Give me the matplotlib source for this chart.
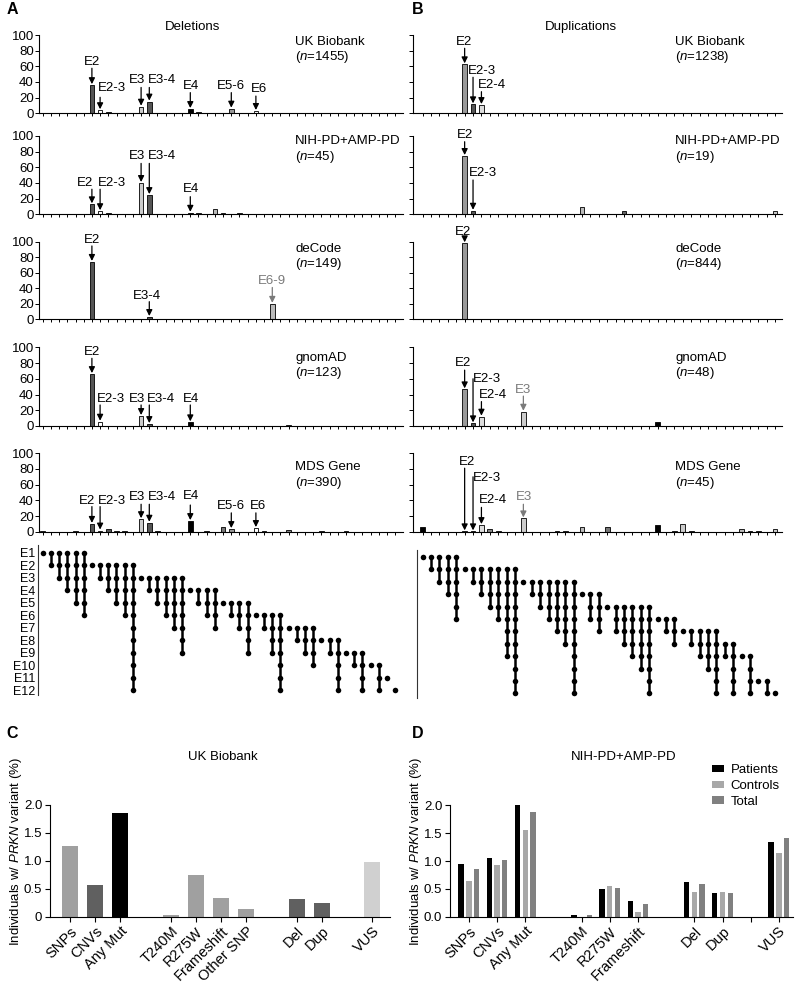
import numpy as np
import matplotlib.pyplot as plt
from matplotlib.patches import Patch

plt.rcParams['font.family'] = 'Liberation Sans'
plt.rcParams['mathtext.fontset'] = 'custom'
plt.rcParams['mathtext.rm'] = 'Liberation Sans'
plt.rcParams['mathtext.it'] = 'Liberation Sans:italic'

# ---- data: exon ranges of each CNV column (start, end exon)
del_ranges = [(1, 1), (1, 2), (1, 3), (1, 4), (1, 5), (1, 6),
              (2, 2), (2, 3), (2, 4), (2, 5), (2, 6), (2, 12),
              (3, 3), (3, 4), (3, 5), (3, 6), (3, 7), (3, 9),
              (4, 4), (4, 5), (4, 6), (4, 7),
              (5, 5), (5, 6), (5, 7), (5, 9),
              (6, 6), (6, 7), (6, 9), (6, 12),
              (7, 7), (7, 8), (7, 9), (7, 10),
              (8, 8), (8, 9), (8, 12),
              (9, 9), (9, 10), (9, 12),
              (10, 10), (10, 12), (11, 11), (12, 12)]
dup_ranges = [(1, 1), (1, 2), (1, 3), (1, 4), (1, 6),
              (2, 2), (2, 3), (2, 4), (2, 5), (2, 6), (2, 9), (2, 12),
              (3, 3), (3, 4), (3, 5), (3, 6), (3, 7), (3, 8), (3, 12),
              (4, 4), (4, 6), (4, 7),
              (5, 5), (5, 7), (5, 8), (5, 9), (5, 10), (5, 12),
              (6, 6), (6, 7), (6, 8),
              (7, 7), (7, 8), (7, 9), (7, 10), (7, 12),
              (8, 9), (8, 12),
              (9, 9), (9, 12),
              (11, 11), (11, 12), (12, 12)]

# percentage of CNVs per column, per cohort
del_ukb = [0, 0, 0, 0, 0, 0, 36, 4, 1.5, 0, 0,
           0, 8.5, 15, 1, 1, 0, 0, 5.5, 1.5, 0, 0,
           0, 6, 0, 0, 3, 0, 0, 0, 1, 0, 0,
           0, 0.5, 0, 0, 0, 0, 0, 0, 0, 0, 0]
del_nih = [0, 0, 0, 0, 0, 0, 12.8, 4, 1.5, 0, 0,
           0, 40, 24.6, 0, 0, 0, 0, 2, 2, 0, 6.4,
           1.5, 0, 1.5, 0, 0, 0, 0, 0, 0, 0, 0,
           0, 0, 0, 0, 0, 0, 0, 0, 0, 0, 0]
del_decode = [0, 0, 0, 0, 0, 0, 74, 0, 0, 0, 0,
              0, 0, 3, 0, 0, 0, 0, 0, 0, 0, 0,
              0, 0, 0, 0, 0, 0, 20, 0, 0, 0, 0,
              0, 0, 0, 0, 0, 0, 0, 0, 0, 0, 0]
del_gnomad = [0, 0, 0, 0, 0, 0, 66, 5.5, 0, 0, 0,
              0, 12.7, 2.5, 0, 0, 0, 0, 4.7, 0, 0, 0,
              0, 0, 0, 0, 0, 0, 0, 0, 1, 0, 0,
              0, 0, 0, 0, 0, 0, 0, 0, 0, 0, 0]
del_mds = [1.5, 0, 0, 0, 0.5, 0, 10, 1.5, 3, 0.5, 0.5,
           0, 16, 11.5, 1, 0, 0, 0, 13.6, 0, 0.5, 0,
           6, 3.4, 0, 0, 4.7, 1.5, 0, 0, 2, 0, 0,
           0, 0.5, 0, 0, 0.5, 0, 0, 0, 0, 0, 0]

dup_ukb = [0, 0, 0, 0, 0, 62.6, 11.5, 10.6, 0.5, 0, 0,
           0, 0, 0.8, 0, 0, 0, 0, 0, 0, 0, 0,
           0, 0, 0, 0, 0, 0, 0, 0, 0, 0.5, 0,
           0, 0, 0, 0, 0, 0, 1, 0, 0, 0]
dup_nih = [0, 0, 0, 0, 0, 74.5, 4.6, 0, 0, 0, 0,
           0, 0, 0, 0, 0, 0, 0, 0, 9.7, 0, 0,
           0, 0, 4.6, 0, 0, 0, 0, 0, 0, 0, 0,
           0, 0, 0, 0, 0, 0, 0, 0, 0, 4.6]
dup_decode = [0, 0, 0, 0, 0, 98, 0, 0, 0, 0, 0,
              0, 0, 0, 0, 0, 0, 0, 0, 0, 0, 0,
              0, 0, 0, 0, 0, 0, 0, 0, 0, 0, 0,
              0, 0, 0, 0, 0, 0, 0, 0, 0, 0]
dup_gnomad = [0, 0, 0, 0, 0, 46.6, 3.4, 11.9, 0, 0, 0,
              0, 18.2, 0, 0, 0, 0, 0, 0, 0.6, 0, 0,
              0.6, 0.6, 0, 0, 0, 0, 5.5, 0, 0, 0.6, 0,
              0, 0, 0, 0.6, 0, 0, 0, 0, 0, 0]
dup_mds = [6.4, 0, 0, 0, 0, 0.5, 0.5, 8.5, 4, 1, 0,
           0, 17, 0, 0, 0, 0.5, 0.5, 0, 6.4, 0, 0,
           6.4, 0, 0, 0, 0, 0, 8, 0, 1, 9.8, 1,
           0, 0, 0, 0, 0, 4, 1, 1, 0, 4]

cohorts = ['UK Biobank', 'NIH-PD+AMP-PD', 'deCode', 'gnomAD', 'MDS Gene']
del_n = [1455, 45, 149, 123, 390]
dup_n = [1238, 19, 844, 48, 45]
del_sets = [del_ukb, del_nih, del_decode, del_gnomad, del_mds]
dup_sets = [dup_ukb, dup_nih, dup_decode, dup_gnomad, dup_mds]

# bar fill per column (style)
del_fill_special = {6: '#555555', 7: 'white', 8: '#555555', 12: '#cccccc', 13: '#555555',
                    18: 'black', 21: '#bbbbbb', 22: '#777777', 23: '#999999', 26: 'white',
                    28: '#bbbbbb'}
dup_fill_special = {0: 'black', 5: '#999999', 6: '#555555', 7: '#dddddd', 8: '#888888',
                    12: '#cccccc', 19: '#bbbbbb', 22: '#777777', 24: '#666666', 28: 'black',
                    31: '#cccccc', 38: '#bbbbbb', 42: '#cccccc'}
del_fill = [del_fill_special.get(i, '#888888') for i in range(len(del_ranges))]
dup_fill = [dup_fill_special.get(i, '#888888') for i in range(len(dup_ranges))]

# annotations: (label, text x, text y, arrow column, arrow start y, grey?)
del_ann = [
    [('E2', 6.0, 66, 6, 57.5, 0), ('E2-3', 8.45, 32, 7, 20.4, 0), ('E3', 11.5, 42.5, 12, 33, 0),
     ('E3-4', 14.6, 42.5, 13, 33, 0), ('E4', 18.05, 35, 18, 26.4, 0), ('E5-6', 22.9, 35, 23, 26.4, 0),
     ('E6', 26.4, 30.6, 26, 22, 0)],
    [('E2', 5.16, 40.4, 6, 32, 0), ('E2-3', 8.45, 40.4, 7, 32, 0), ('E3', 11.5, 74.5, 12, 65, 0),
     ('E3-4', 14.6, 74.5, 13, 65, 0), ('E4', 18.05, 32, 18, 22.5, 0)],
    [('E2', 6.05, 102, 6, 94.5, 0), ('E3-4', 12.7, 30, 13, 22.7, 0), ('E6-9', 28.0, 49.7, 28, 41, 1)],
    [('E2', 6.05, 93.6, 6, 86, 0), ('E2-3', 8.3, 34.3, 7, 26.7, 0), ('E3', 11.46, 34.3, 12, 26.7, 0),
     ('E3-4', 14.4, 34.3, 13, 26.7, 0), ('E4', 18.05, 34.3, 18, 26.7, 0)],
    [('E2', 5.44, 39.5, 6, 32, 0), ('E2-3', 8.45, 39.5, 7, 32, 0), ('E3', 11.46, 44, 12, 35, 0),
     ('E3-4', 14.6, 44, 13, 35, 0), ('E4', 18.05, 45.5, 18, 34, 0), ('E5-6', 22.9, 32.8, 23, 24, 0),
     ('E6', 26.2, 32.8, 26, 24, 0)],
]
dup_ann = [
    [('E2', 4.92, 91.5, 5, 83, 0), ('E2-3', 7.1, 54.4, 6, 46, 0), ('E2-4', 8.2, 36, 7, 27.6, 0)],
    [('E2', 5.04, 101, 5, 92.7, 0), ('E2-3', 7.15, 52.4, 6, 43.8, 0)],
    [('E2', 4.84, 113, 5, 104.4, 0)],
    [('E2', 4.84, 79.7, 5, 71, 0), ('E2-3', 7.7, 59.3, 6, 60, 0), ('E2-4', 8.34, 39.4, 7, 31, 0),
     ('E3', 12.0, 45.7, 12, 38, 1)],
    [('E2', 5.32, 89.3, 5, 81, 0), ('E2-3', 7.7, 68, 6, 70, 0), ('E2-4', 8.34, 40.4, 7, 31, 0),
     ('E3', 12.07, 43.9, 12, 35, 1)],
]

# panels C / D
c_labels = ['SNPs', 'CNVs', 'Any Mut', 'T240M', 'R275W', 'Frameshift', 'Other SNP', 'Del', 'Dup', 'VUS']
c_pos = [0, 1, 2, 4, 5, 6, 7, 9, 10, 12]
c_vals = [1.26, 0.565, 1.845, 0.03, 0.744, 0.34, 0.137, 0.315, 0.238, 0.98]
c_cols = ['#a0a0a0', '#606060', 'black', '#a0a0a0', '#a0a0a0', '#a0a0a0', '#a0a0a0',
          '#606060', '#606060', '#d0d0d0']

d_labels = ['SNPs', 'CNVs', 'Any Mut', 'T240M', 'R275W', 'Frameshift', 'Del', 'Dup', '', 'VUS']
d_ticks = [0, 1, 2, 4, 5, 6, 8, 9, 10, 11]
d_pos = [0, 1, 2, 4, 5, 6, 8, 9, 11]
d_patients = [0.94, 1.06, 2.0, 0.025, 0.49, 0.28, 0.63, 0.42, 1.335]
d_controls = [0.64, 0.92, 1.556, 0.0, 0.55, 0.085, 0.45, 0.45, 1.15]
d_total = [0.862, 1.02, 1.88, 0.025, 0.515, 0.23, 0.58, 0.43, 1.41]

# ---- figure
W, H = 800, 984
fig = plt.figure(figsize=(8, 9.84), dpi=100)
FS = 9.5
GREY = '#7a7a7a'


def axes_px(x0, x1, y0, y1):
    return fig.add_axes([x0 / W, 1 - y1 / H, (x1 - x0) / W, (y1 - y0) / H])


def text_px(x, y, s, **kw):
    fig.text(x / W, 1 - y / H, s, **kw)


def style(ax, lw=0.8):
    for s in ['top', 'right']:
        ax.spines[s].set_visible(False)
    for s in ['left', 'bottom']:
        ax.spines[s].set_linewidth(lw)


row_y = [(35, 113.3), (136, 214.3), (241.7, 319.3), (347.3, 426), (453.3, 531.7)]
label_y = [(41.7, 57.3), (140.7, 156.7), (249.3, 264.3), (358.3, 373.3), (467.3, 483.3)]

for side in range(2):
    if side == 0:
        sets, anns, ranges, fill, ns = del_sets, del_ann, del_ranges, del_fill, del_n
        x0, x1, xl = 39.3, 403, (-0.415, 43.94)
        lab_x = 295
    else:
        sets, anns, ranges, fill, ns = dup_sets, dup_ann, dup_ranges, dup_fill, dup_n
        x0, x1, xl = 413.3, 781.7, (-1.12, 42.79)
        lab_x = 675
    for r in range(5):
        ax = axes_px(x0, x1, row_y[r][0], row_y[r][1])
        style(ax)
        cols = np.arange(len(ranges))
        ax.bar(cols, sets[r], width=0.57, color=fill, edgecolor='black', linewidth=0.6)
        ax.set_xlim(*xl)
        ax.set_ylim(0, 100)
        ax.set_xticks(cols)
        ax.set_xticklabels([])
        ax.set_yticks(range(0, 101, 20))
        if side == 0:
            ax.set_yticklabels([str(v) for v in range(0, 101, 20)], fontsize=FS)
        else:
            ax.set_yticklabels([])
        ax.tick_params(axis='x', length=2.2, width=0.7, direction='out')
        ax.tick_params(axis='y', length=3, width=0.7, direction='out', pad=1)
        for lab, tx, ty, col, yf, g in anns[r]:
            c = GREY if g else 'black'
            ax.text(tx, ty, lab, ha='center', va='center', fontsize=FS, color=c, clip_on=False)
            ax.annotate('', xy=(col, sets[r][col] + 1.2), xytext=(col, yf),
                        arrowprops=dict(arrowstyle='-|>', color=c, lw=0.9, mutation_scale=9,
                                        shrinkA=0, shrinkB=0),
                        annotation_clip=False)
        text_px(lab_x, label_y[r][0], cohorts[r], fontsize=FS, va='center', ha='left')
        text_px(lab_x, label_y[r][1], '($\\mathit{n}$=%d)' % ns[r], fontsize=FS, va='center', ha='left')

    # exon dot matrix
    if side == 0:
        mx = axes_px(37.7, 403, 545, 695)
        mx.set_xlim(-0.61, 43.94)
        mx.set_ylim(12.4, 0.38)
    else:
        mx = axes_px(417.3, 781.7, 550, 698)
        mx.set_xlim(-0.64, 42.79)
        mx.set_ylim(12.37, 0.435)
    for s in ['top', 'right', 'bottom']:
        mx.spines[s].set_visible(False)
    mx.spines['left'].set_linewidth(0.8)
    mx.spines['left'].set_color('#333333')
    for i, (s, e) in enumerate(ranges):
        ex = np.arange(s, e + 1)
        mx.plot([i, i], [s, e], color='black', lw=1.8, solid_capstyle='butt')
        mx.plot(np.full(len(ex), i), ex, 'o', ms=4.0, color='black', mew=0)
    mx.set_xticks([])
    mx.set_yticks(range(1, 13))
    if side == 0:
        mx.set_yticklabels(['E%d' % k for k in range(1, 13)], fontsize=9)
        mx.tick_params(axis='y', length=0, pad=1.5)
    else:
        mx.set_yticklabels([])
        mx.tick_params(axis='y', length=0)

text_px(192.3, 26.7, 'Deletions', fontsize=FS, ha='center', va='center')
text_px(581, 26.7, 'Duplications', fontsize=FS, ha='center', va='center')
for lab, x, y in [('A', 12.5, 9.5), ('B', 418, 9.5), ('C', 12.5, 733), ('D', 418, 733)]:
    text_px(x, y, lab, fontsize=11.5, fontweight='bold', ha='center', va='center')

ylab = 'Individuals w/ $\\mathit{PRKN}$ variant (%)'
XFS = 10.5

# panel C
axc = axes_px(50, 390, 804.7, 916.7)
style(axc)
axc.bar(c_pos, c_vals, width=0.64, color=c_cols)
axc.set_xlim(-0.795, 12.71)
axc.set_ylim(0, 2.0)
axc.set_yticks([0, 0.5, 1.0, 1.5, 2.0])
axc.set_yticklabels(['0', '0.5', '1.0', '1.5', '2.0'], fontsize=FS)
axc.set_xticks(c_pos)
axc.set_xticklabels(c_labels, rotation=45, ha='right', rotation_mode='anchor', fontsize=XFS)
axc.tick_params(length=3.5, width=0.8, pad=2)
text_px(223, 757, 'UK Biobank', fontsize=FS, ha='center', va='center')
text_px(16.5, 852, ylab, fontsize=FS, ha='center', va='center', rotation=90)

# panel D
axd = axes_px(450, 793, 805.3, 916.7)
style(axd)
dp = np.array(d_pos)
bw = 0.19
axd.bar(dp - 0.275, d_patients, width=bw, color='black', label='Patients')
axd.bar(dp, d_controls, width=bw, color='#a8a8a8', label='Controls')
axd.bar(dp + 0.275, d_total, width=bw, color='#808080', label='Total')
axd.set_xlim(-0.67, 11.5)
axd.set_ylim(0, 2.0)
axd.set_yticks([0, 0.5, 1.0, 1.5, 2.0])
axd.set_yticklabels(['0.0', '0.5', '1.0', '1.5', '2.0'], fontsize=FS)
axd.set_xticks(d_ticks)
axd.set_xticklabels(d_labels, rotation=45, ha='right', rotation_mode='anchor', fontsize=XFS)
axd.tick_params(length=3.5, width=0.8, pad=2)
handles = [Patch(facecolor='black'), Patch(facecolor='#a8a8a8'), Patch(facecolor='#808080')]
axd.legend(handles, ['Patients', 'Controls', 'Total'], loc='upper left',
           bbox_to_anchor=(712 / W, 1 - 764 / H), bbox_transform=fig.transFigure,
           frameon=False, fontsize=FS, handlelength=0.9, handleheight=0.5,
           handletextpad=0.5, labelspacing=0.3, borderaxespad=0, borderpad=0)
text_px(623.3, 757, 'NIH-PD+AMP-PD', fontsize=FS, ha='center', va='center')
text_px(416.5, 852, ylab, fontsize=FS, ha='center', va='center', rotation=90)

fig.savefig('out.png', dpi=100)
